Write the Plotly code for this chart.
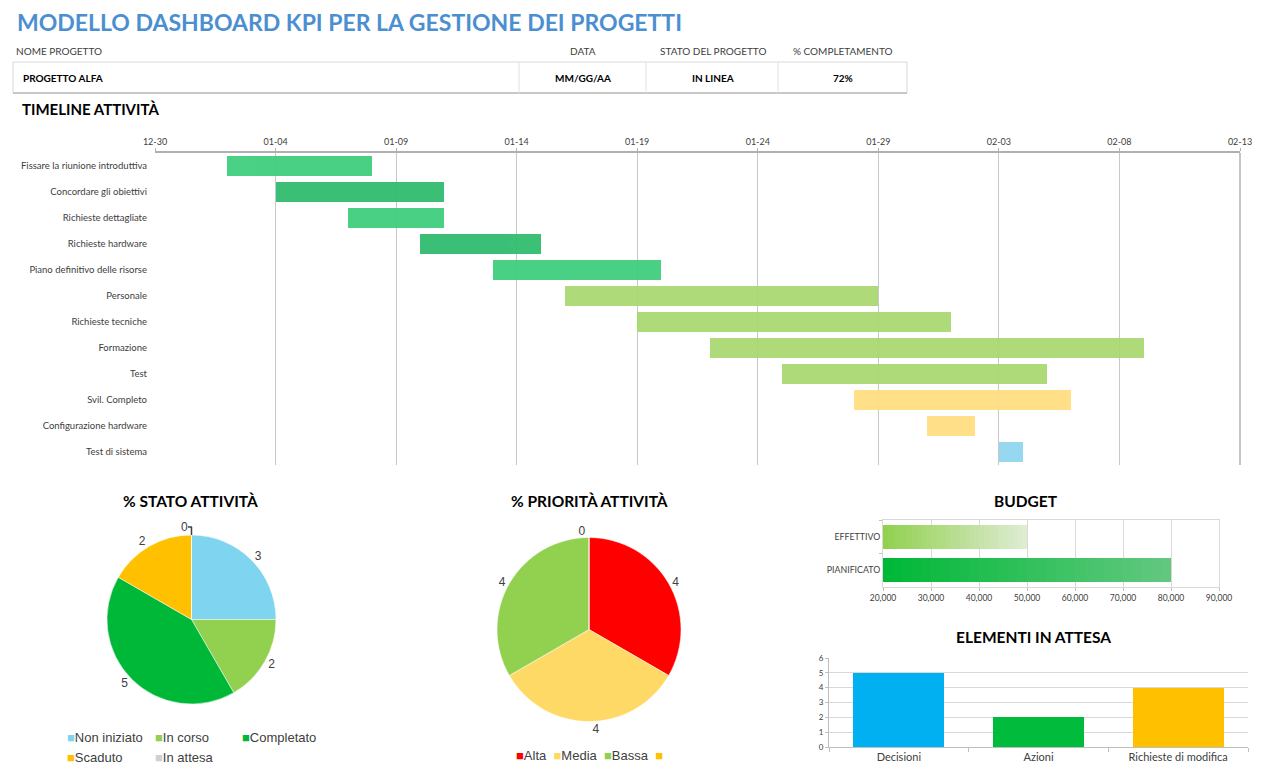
from datetime import datetime

import plotly.graph_objects as go

W, H = 1280, 782
PAGE_OFFSET = 8  # body margin of the html page

# header block
HEADER_LABELS = ["NOME PROGETTO", "DATA", "STATO DEL PROGETTO", "% COMPLETAMENTO"]
HEADER_VALUES = ["PROGETTO ALFA", "MM/GG/AA", "IN LINEA", "72%"]

# timeline
TASKS = [
    "Fissare la riunione introduttiva", "Concordare gli obiettivi",
    "Richieste dettagliate", "Richieste hardware",
    "Piano definitivo delle risorse", "Personale", "Richieste tecniche",
    "Formazione", "Test", "Svil. Completo", "Configurazione hardware",
    "Test di sistema",
]
TASK_START = [
    "2024-01-02", "2024-01-04", "2024-01-07", "2024-01-10", "2024-01-13",
    "2024-01-16", "2024-01-19", "2024-01-22", "2024-01-25", "2024-01-28",
    "2024-01-31", "2024-02-03",
]
TASK_END = [
    "2024-01-08", "2024-01-11", "2024-01-11", "2024-01-15", "2024-01-20",
    "2024-01-29", "2024-02-01", "2024-02-09", "2024-02-05", "2024-02-06",
    "2024-02-02", "2024-02-04",
]

# task status pie
STATUS_LABELS = ["Non iniziato", "In corso", "Completato", "Scaduto", "In attesa"]
STATUS_VALUES = [3, 2, 5, 2, 0]

# priority pie
PRIORITY_LABELS = ["Alta", "Media", "Bassa", ""]
PRIORITY_VALUES = [4, 4, 4, 0]

# budget
BUDGET_LABELS = ["PIANIFICATO", "EFFETTIVO"]
BUDGET_VALUES = [80000, 50000]

# pending items
PENDING_LABELS = ["Decisioni", "Azioni", "Richieste di modifica"]
PENDING_VALUES = [5, 2, 4]

# styles
BAR_COLORS = ["#3ccd7c", "#2dbb6c", "#3ccd7c", "#2dbb6c", "#3ccd7c",
              "#a8d870", "#a8d870", "#a8d870", "#a8d870",
              "#ffdd80", "#ffdd80", "#8fd6ef"]
STATUS_COLORS = ["#7fd4ef", "#92d050", "#00b838", "#ffc000", "#d0d0d0"]
PRIORITY_COLORS = ["#ff0000", "#ffd966", "#92d050", "#ffc000"]
PENDING_COLORS = ["#00b0f0", "#00bb3c", "#ffc000"]
BUDGET_GRAD = [((0, 184, 55), (98, 200, 128)), ((146, 208, 80), (222, 236, 210))]
BUDGET_MIN = 20000

FONT = "Lato"
GREY = "#404040"


def px(x):
    return (x - PAGE_OFFSET) / W


def py(y):
    return 1 - (y - PAGE_OFFSET) / H


def mix(c0, c1, t):
    return "rgb(%d,%d,%d)" % tuple(round(a + (b - a) * t) for a, b in zip(c0, c1))


fig = go.Figure()

# --- timeline ---
durations = [
    (datetime.fromisoformat(e) - datetime.fromisoformat(s)).total_seconds() * 1000
    for s, e in zip(TASK_START, TASK_END)
]
fig.add_trace(go.Bar(
    y=TASKS, x=durations, base=TASK_START, orientation="h",
    marker=dict(color=BAR_COLORS, line_width=0), opacity=0.93, width=0.78,
    xaxis="x", yaxis="y", showlegend=False,
))

# --- pies ---
fig.add_trace(go.Pie(
    labels=STATUS_LABELS, values=STATUS_VALUES, sort=False, direction="clockwise",
    marker=dict(colors=STATUS_COLORS, line=dict(color="white", width=0.5)),
    textinfo="value", textposition="outside", automargin=False,
    textfont=dict(family="Liberation Sans", size=12, color=GREY),
    domain=dict(x=[px(107), px(276)], y=[py(704), py(535)]), showlegend=False,
))
fig.add_trace(go.Pie(
    labels=PRIORITY_LABELS, values=PRIORITY_VALUES, sort=False, direction="clockwise",
    marker=dict(colors=PRIORITY_COLORS, line=dict(color="white", width=0.5)),
    textinfo="value", textposition="outside", automargin=False,
    textfont=dict(family="Liberation Sans", size=12, color=GREY),
    domain=dict(x=[px(497), px(681)], y=[py(722), py(537)]), showlegend=False,
))

# --- budget (gradient drawn as slices of each bar) ---
N = 30
for lab, val, (c0, c1) in zip(BUDGET_LABELS, BUDGET_VALUES, BUDGET_GRAD):
    step = (val - BUDGET_MIN) / N
    for i in range(N):
        fig.add_trace(go.Bar(
            y=[lab], x=[step], base=[BUDGET_MIN + i * step], orientation="h",
            marker=dict(color=mix(c0, c1, i / (N - 1)), line_width=0), width=0.72,
            xaxis="x3", yaxis="y3", showlegend=False, hoverinfo="skip",
        ))

# --- pending items ---
fig.add_trace(go.Bar(
    x=PENDING_LABELS, y=PENDING_VALUES, marker=dict(color=PENDING_COLORS, line_width=0),
    width=0.65, xaxis="x4", yaxis="y4", showlegend=False,
))

ann = []


def text(x, y, s, size=10, color=GREY, family=FONT, anchor="left"):
    ann.append(dict(x=px(x), y=py(y), xref="paper", yref="paper", text=s,
                    showarrow=False, xanchor=anchor, yanchor="middle",
                    font=dict(family=family, size=size, color=color)))


text(15, 22, "<b>MODELLO DASHBOARD KPI PER LA GESTIONE DEI PROGETTI</b>", 23, "#4b8fd1")
hx = [14, 583, 713, 843]
for i, (lab, val) in enumerate(zip(HEADER_LABELS, HEADER_VALUES)):
    text(hx[i], 51, lab, 10, GREY, FONT, "left" if i == 0 else "center")
    text(hx[i] + (7 if i == 0 else 0), 78, "<b>" + val + "</b>", 10, "#000000", FONT,
         "left" if i == 0 else "center")
text(20, 109, "<b>TIMELINE ATTIVITÀ</b>", 15, "#000000")
text(190, 501, "<b>% STATO ATTIVITÀ</b>", 15.5, "#000000", FONT, "center")
text(589, 501, "<b>% PRIORITÀ ATTIVITÀ</b>", 15.5, "#000000", FONT, "center")
text(1026, 501, "<b>BUDGET</b>", 15.5, "#000000", FONT, "center")
text(1033, 637, "<b>ELEMENTI IN ATTESA</b>", 15.5, "#000000", FONT, "center")

# pie legends
leg1_pos = [(65, 737), (153, 737), (240, 737), (65, 757), (153, 757)]
for (x, y), lab, col in zip(leg1_pos, STATUS_LABELS, STATUS_COLORS):
    text(x, y, f"<span style='color:{col}'>■</span>{lab}", 13, GREY, "Liberation Sans")
leg2 = "  ".join(f"<span style='color:{c}'>■</span>{l}"
                 for l, c in zip(PRIORITY_LABELS, PRIORITY_COLORS))
text(589, 755, leg2, 13, GREY, "Liberation Sans", "center")

shapes = [
    dict(type="rect", xref="paper", yref="paper", x0=px(13), x1=px(907),
         y0=py(93), y1=py(62), line=dict(color="#d9d9d9", width=1)),
    dict(type="line", xref="paper", yref="paper", x0=px(13), x1=px(907),
         y0=py(93), y1=py(93), line=dict(color="#c8c8c8", width=2)),
]
for xv in [519, 646, 778]:
    shapes.append(dict(type="line", xref="paper", yref="paper", x0=px(xv), x1=px(xv),
                       y0=py(93), y1=py(62), line=dict(color="#e0e0e0", width=1)))
shapes.append(dict(type="line", xref="x domain", yref="y domain", x0=1, x1=1, y0=0, y1=1,
                   line=dict(color="#b0b0b0", width=1.5)))

tick_font = dict(family=FONT, size=9, color=GREY)
fig.update_layout(
    template="none",
    width=W, height=H, margin=dict(l=0, r=0, t=0, b=0, autoexpand=False),
    paper_bgcolor="white", plot_bgcolor="white", font=dict(family=FONT, color=GREY),
    annotations=ann, shapes=shapes, barmode="overlay", bargap=0,
    xaxis=dict(domain=[px(155), px(1240)], anchor="y", side="top", type="date",
               range=["2023-12-30", "2024-02-13"], tick0="2023-12-30",
               dtick=5 * 86400000, tickformat="%m-%d", tickfont=tick_font,
               showgrid=True, gridcolor="#c8c8c8", showline=True, linecolor="#b0b0b0",
               linewidth=1.5, ticks="outside", ticklen=3, tickcolor="#b0b0b0",
               zeroline=False, automargin=False),
    yaxis=dict(domain=[py(465), py(153)], anchor="x", autorange="reversed",
               tickfont=dict(family=FONT, size=9.5, color=GREY), ticklabelstandoff=7,
               showgrid=False, zeroline=False, automargin=False, ticks=""),
    xaxis3=dict(domain=[px(883), px(1219)], anchor="y3", range=[BUDGET_MIN, 90000],
                dtick=10000, tickformat=",d", tickfont=dict(family=FONT, size=8.5, color=GREY),
                showgrid=True, gridcolor="#d9d9d9", showline=True, mirror=True,
                linecolor="#d9d9d9", ticks="outside", ticklen=3, tickcolor="#bfbfbf",
                zeroline=False, automargin=False),
    yaxis3=dict(domain=[py(587), py(520)], anchor="x3", categoryorder="array",
                categoryarray=BUDGET_LABELS, tickfont=dict(family=FONT, size=8.8, color=GREY),
                ticks="outside", ticklen=3, tickcolor="#bfbfbf", tickson="boundaries",
                showline=True, mirror=True, linecolor="#d9d9d9", showgrid=False,
                automargin=False),
    xaxis4=dict(domain=[px(829), px(1248)], anchor="y4",
                tickfont=dict(family=FONT, size=11, color=GREY), showline=True,
                linecolor="#bfbfbf", ticks="outside", ticklen=4, tickcolor="#bfbfbf",
                tickson="boundaries", showgrid=False, automargin=False),
    yaxis4=dict(domain=[py(747), py(658)], anchor="x4", range=[0, 6], dtick=1,
                tickfont=dict(family=FONT, size=8, color=GREY), showgrid=True,
                gridcolor="#d9d9d9", showline=True, linecolor="#bfbfbf",
                ticks="outside", ticklen=3, tickcolor="#bfbfbf", zeroline=False,
                automargin=False),
)

fig.write_html("out.html")
